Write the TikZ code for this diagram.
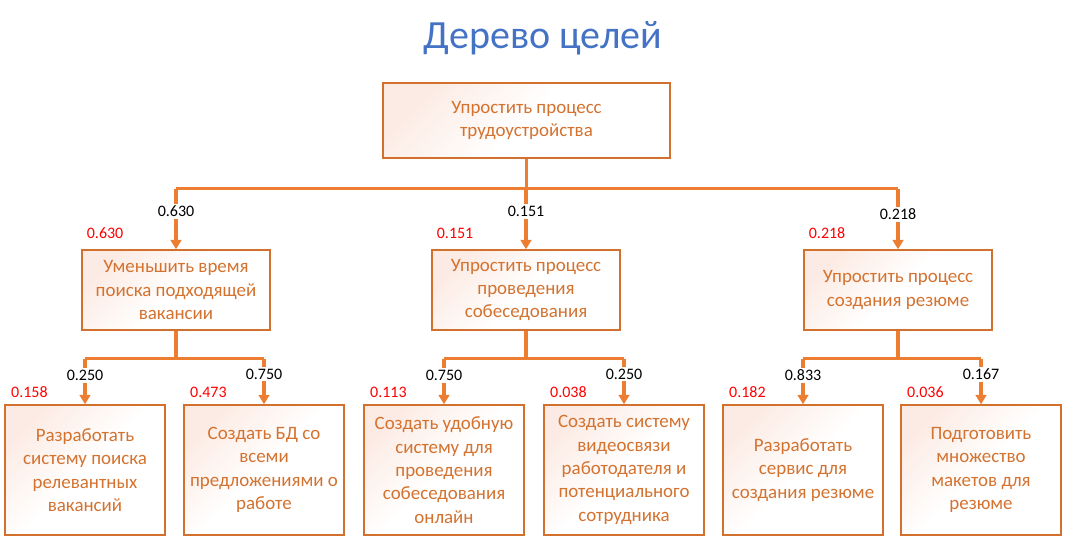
\documentclass[tikz,border=0pt]{standalone}
\usepackage{fontspec}
\setmainfont{Carlito}
\usetikzlibrary{arrows.meta}

\definecolor{linkorange}{HTML}{ED7D31}
\definecolor{goalborder}{HTML}{D2702E}
\definecolor{goaltext}{HTML}{D4722F}
\definecolor{goalfill}{HTML}{FCEBE4}
\definecolor{titleblue}{HTML}{4472C4}

\tikzset{
  goal/.style={draw=goalborder, line width=1.1pt, top color=goalfill, bottom color=white,
    middle color=white, shading angle=45, text=goaltext, align=center, inner sep=2pt,
    font=\fontsize{14.2}{17.5}\selectfont},
  rootgoal/.style={goal, minimum width=215pt, minimum height=56pt},
  subgoal/.style={goal, minimum width=141pt, minimum height=60pt},
  leafgoal/.style={goal, minimum width=120pt, minimum height=97.5pt},
  link/.style={draw=linkorange, line width=2.3pt},
  linkarrow/.style={link, -{Triangle[width=8pt,length=7pt]}},
  weight/.style={fill=white, inner sep=1.5pt, font=\fontsize{12}{14}\selectfont},
  share/.style={text=red, inner sep=0pt, anchor=base west, font=\fontsize{12}{14}\selectfont}
}

\begin{document}
\begin{tikzpicture}[x=0.75pt,y=-0.75pt]
    \useasboundingbox (0,0) rectangle (1069,556);

    % заголовок
    \node[text=titleblue, font=\fontsize{30}{36}\selectfont] (title) at (543,38) {Дерево целей};

    % главная цель
    \node[rootgoal] (root) at (526.5,120.5) {Упростить процесс\\трудоустройства};

    % подцели первого уровня
    \node[subgoal] (A) at (176,290) {Уменьшить время\\поиска подходящей\\вакансии};
    \node[subgoal] (B) at (526,290) {Упростить процесс\\проведения\\собеседования};
    \node[subgoal] (C) at (898,290) {Упростить процесс\\создания резюме};

    % подцели второго уровня
    \node[leafgoal] (A1) at (85,470) {Разработать\\систему поиска\\релевантных\\вакансий};
    \node[leafgoal] (A2) at (264,470) {Создать БД со\\всеми\\предложениями о\\работе};
    \node[leafgoal] (B1) at (444,470) {Создать удобную\\систему для\\проведения\\собеседования\\онлайн};
    \node[leafgoal] (B2) at (624,470) {Создать систему\\видеосвязи\\работодателя и\\потенциального\\сотрудника};
    \node[leafgoal] (C1) at (803,470) {Разработать\\сервис для\\создания резюме};
    \node[leafgoal] (C2) at (981,470) {Подготовить\\множество\\макетов для\\резюме};

    % связи от главной цели
    \draw[link] (root.south) -- ++(0,30) coordinate (j0);
    \draw[link] (A.north |- j0) -- (C.north |- j0);
    \draw[linkarrow] (A.north |- j0) -- node[weight,pos=0.38] {0.630} (A.north);
    \draw[linkarrow] (B.north |- j0) -- node[weight,pos=0.38] {0.151} (B.north);
    \draw[linkarrow] (C.north |- j0) -- node[weight,pos=0.42] {0.218} (C.north);

    % связи второго уровня
    \foreach \p/\l/\r/\wl/\wr in {A/A1/A2/0.250/0.750, B/B1/B2/0.750/0.250, C/C1/C2/0.833/0.167}{
      \draw[link] (\p.south) -- ++(0,28) coordinate (j\p);
      \draw[link] (\l.north |- j\p) -- (\r.north |- j\p);
      \draw[linkarrow] (\l.north |- j\p) -- node[weight,pos=0.37] {\wl} (\l.north);
      \draw[linkarrow] (\r.north |- j\p) -- node[weight,pos=0.34] {\wr} (\r.north);
    }

    % глобальные веса
    \node[share] at ([xshift=4pt,yshift=8pt]A.north west) {0.630};
    \node[share] at ([xshift=4pt,yshift=8pt]B.north west) {0.151};
    \node[share] at ([xshift=4pt,yshift=8pt]C.north west) {0.218};
    \node[share] at ([xshift=5pt,yshift=5pt]A1.north west) {0.158};
    \node[share] at ([xshift=5pt,yshift=5pt]A2.north west) {0.473};
    \node[share] at ([xshift=5pt,yshift=5pt]B1.north west) {0.113};
    \node[share] at ([xshift=5pt,yshift=5pt]B2.north west) {0.038};
    \node[share] at ([xshift=5pt,yshift=5pt]C1.north west) {0.182};
    \node[share] at ([xshift=5pt,yshift=5pt]C2.north west) {0.036};

\end{tikzpicture}
\end{document}
